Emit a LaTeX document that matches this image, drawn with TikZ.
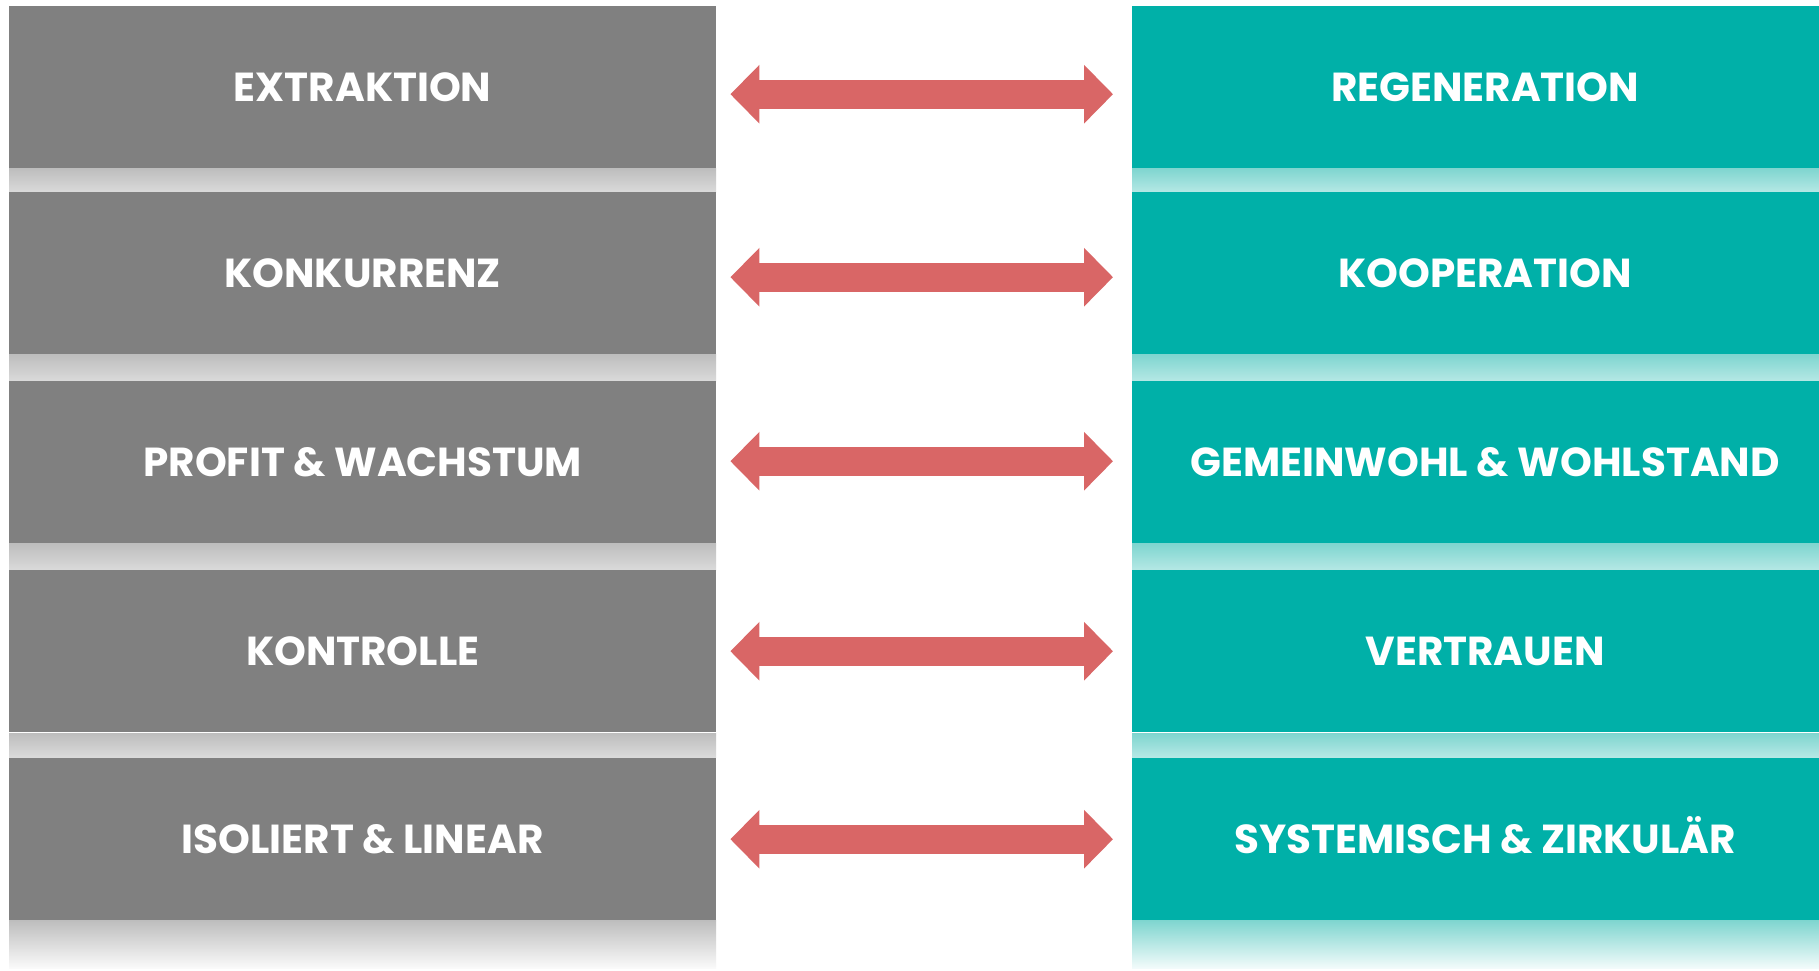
\documentclass[tikz,border=0pt]{standalone}
\usepackage{fontspec}
\setmainfont{Poppins}
\usetikzlibrary{arrows.meta}
\definecolor{boxgray}{HTML}{808080}
\definecolor{boxteal}{HTML}{00B0A8}
\definecolor{arrred}{HTML}{D96666}
\definecolor{gstripA}{HTML}{BDBDBD}
\definecolor{gstripB}{HTML}{DADADA}
\definecolor{tstripA}{HTML}{7ED5CF}
\definecolor{tstripB}{HTML}{B5E8E5}
\tikzset{
  boxtext/.style={font=\fontsize{40.5}{44}\selectfont\bfseries, text height=28.3pt, text depth=0pt},
  lbox/.style={boxtext, fill=boxgray, text=white, minimum width=707pt, minimum height=162pt, inner sep=0pt, anchor=north west},
  rbox/.style={boxtext, fill=boxteal, text=white, minimum width=706pt, minimum height=162pt, inner sep=0pt, anchor=north west},
  dblarrow/.style={arrred, line width=29pt, {Triangle[length=29pt 0 0, width=57pt 0 0]}-{Triangle[length=29pt 0 0, width=57pt 0 0]}}
}
\begin{document}
\begin{tikzpicture}[x=1pt,y=-1pt]
\useasboundingbox (0,0) rectangle (1819,970);
\fill[white] (0,0) rectangle (1819,970);
% strips
\foreach \ya/\yb in {168/192,354/381,543/570,733/757}{
  \shade[top color=gstripA, bottom color=gstripB] (9,\ya) rectangle (716,\yb);
  \shade[top color=tstripA, bottom color=tstripB] (1132,\ya) rectangle (1838,\yb);
}
\shade[top color=gstripA, bottom color=white!96!gray] (9,920) rectangle (716,968);
\shade[top color=tstripA, bottom color=white!95!boxteal] (1132,920) rectangle (1838,968);
% boxes
\node[lbox] (l1) at (9,6) {EXTRAKTION};
\node[rbox] (r1) at (1132,6) {REGENERATION};
\node[lbox] (l2) at (9,192) {KONKURRENZ};
\node[rbox] (r2) at (1132,192) {KOOPERATION};
\node[lbox] (l3) at (9,381) {PROFIT \& WACHSTUM};
\node[rbox] (r3) at (1132,381) {GEMEINWOHL \& WOHLSTAND};
\node[lbox] (l4) at (9,570) {KONTROLLE};
\node[rbox] (r4) at (1132,570) {VERTRAUEN};
\node[lbox] (l5) at (9,758) {ISOLIERT \& LINEAR};
\node[rbox] (r5) at (1132,758) {SYSTEMISCH \& ZIRKULÄR};
% arrows
\foreach \i/\d in {1/-7pt,2/-4pt,3/1pt,4/0pt,5/0pt}{
  \draw[dblarrow] ([xshift=14pt,yshift=\d]l\i.east) -- ([xshift=-19pt,yshift=\d]r\i.west);
}
\end{tikzpicture}
\end{document}
